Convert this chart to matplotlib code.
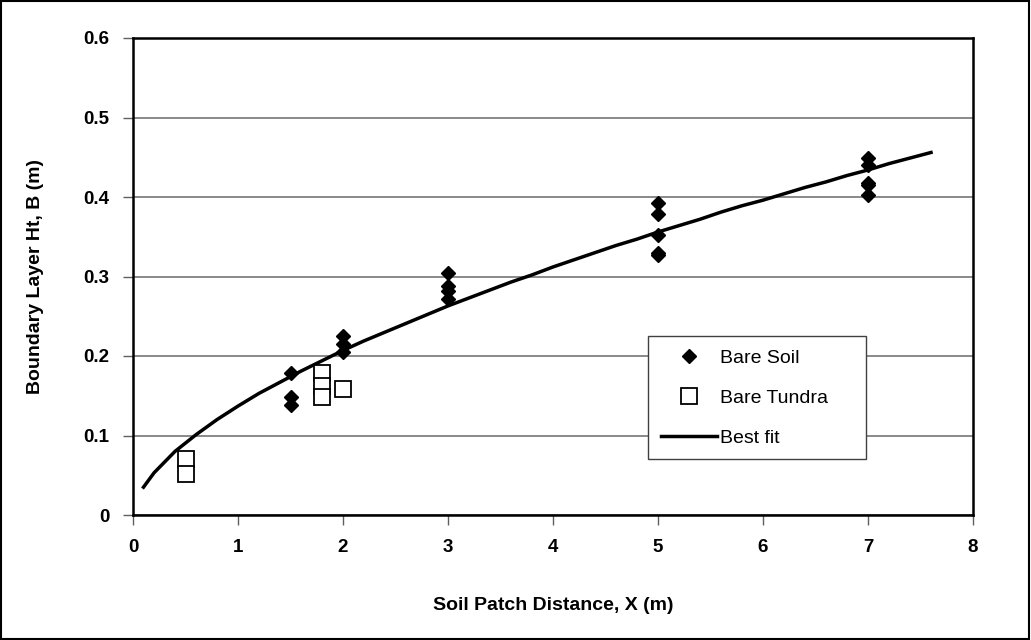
import matplotlib
matplotlib.use('Agg')
import matplotlib.pyplot as plt

plt.rcParams['font.family'] = ['Liberation Sans', 'DejaVu Sans']

# bare soil measurements
soil_x = [1.5, 1.5, 1.5, 2, 2, 2, 3, 3, 3, 3, 5, 5, 5, 5, 5, 7, 7, 7, 7, 7]
soil_b = [0.178, 0.148, 0.138, 0.225, 0.215, 0.205, 0.305, 0.288, 0.282, 0.272,
          0.392, 0.378, 0.352, 0.330, 0.327, 0.449, 0.440, 0.418, 0.415, 0.403]

# bare tundra measurements
tundra_x = [0.5, 0.5, 1.8, 1.8, 1.8, 2]
tundra_b = [0.070, 0.052, 0.178, 0.162, 0.148, 0.158]

# best fit curve
fit_x = [0.1, 0.2, 0.4, 0.6, 0.8, 1.0, 1.2, 1.4, 1.6, 1.8, 2.0, 2.2, 2.4, 2.6,
         2.8, 3.0, 3.2, 3.4, 3.6, 3.8, 4.0, 4.2, 4.4, 4.6, 4.8, 5.0, 5.2, 5.4,
         5.6, 5.8, 6.0, 6.2, 6.4, 6.6, 6.8, 7.0, 7.2, 7.4, 7.6]
fit_b = [0.035, 0.053, 0.080, 0.101, 0.120, 0.137, 0.153, 0.167, 0.181, 0.194,
         0.207, 0.219, 0.230, 0.241, 0.252, 0.263, 0.273, 0.283, 0.293, 0.302,
         0.312, 0.321, 0.330, 0.339, 0.347, 0.356, 0.364, 0.372, 0.381, 0.389,
         0.396, 0.404, 0.412, 0.419, 0.427, 0.434, 0.442, 0.449, 0.456]

fig = plt.figure(figsize=(10.31, 6.4), dpi=100)
ax = fig.add_axes([133 / 1031, 1 - 515 / 640, 840 / 1031, 477 / 640])

# frame around the whole figure
fig.patches.append(plt.Rectangle((0.001, 0.002), 0.997, 0.996, transform=fig.transFigure,
                                 fill=False, edgecolor='black', linewidth=1.5))

ax.plot(soil_x, soil_b, linestyle='none', marker='D', markersize=7.5,
        color='black', label='Bare Soil', zorder=3)
ax.plot(tundra_x, tundra_b, linestyle='none', marker='s', markersize=11,
        markerfacecolor='white', markeredgecolor='black', markeredgewidth=1.3,
        label='Bare Tundra', zorder=3)
ax.plot(fit_x, fit_b, color='black', linewidth=2.5, label='Best fit', zorder=2)

ax.set_xlim(0, 8)
ax.set_ylim(0, 0.6)
ax.set_xticks(range(0, 9))
ax.set_yticks([0, 0.1, 0.2, 0.3, 0.4, 0.5, 0.6])
ax.set_yticklabels(['0', '0.1', '0.2', '0.3', '0.4', '0.5', '0.6'])
ax.yaxis.grid(True, color='#808080', linewidth=1.3)
ax.set_axisbelow(True)
for s in ax.spines.values():
    s.set_linewidth(1.8)
    s.set_color('black')
ax.tick_params(direction='out', length=7, width=1, color='#606060', labelsize=13.5, pad=10)
for lbl in ax.get_xticklabels() + ax.get_yticklabels():
    lbl.set_fontweight('bold')

ax.set_xlabel('Soil Patch Distance, X (m)', fontsize=14, fontweight='bold', labelpad=30)
ax.set_ylabel('Boundary Layer Ht, B (m)', fontsize=14, fontweight='bold', labelpad=28)

leg = ax.legend(loc='lower left', bbox_to_anchor=(0.613, 0.117, 0.26, 0.262), mode='expand',
                fontsize=14, frameon=True, fancybox=False, handlelength=2.9,
                borderaxespad=0, labelspacing=1.15, handletextpad=0.15, borderpad=0.65)
leg.get_frame().set_edgecolor('#404040')
leg.get_frame().set_linewidth(1)
leg.get_frame().set_alpha(1)

plt.savefig('out.png', dpi=100)
